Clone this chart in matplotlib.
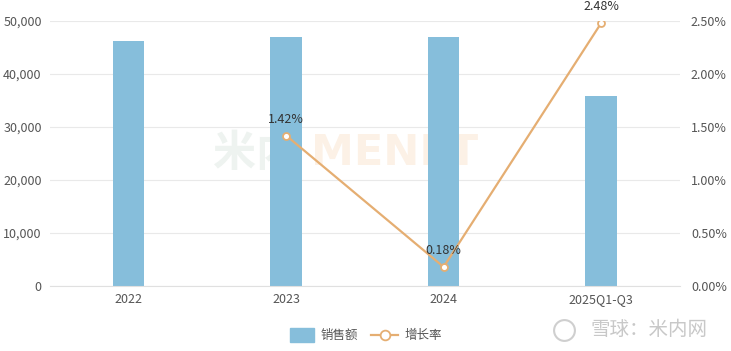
import matplotlib.pyplot as plt
from matplotlib.ticker import FuncFormatter

plt.rcParams['font.family'] = ['Noto Sans CJK SC', 'DejaVu Sans']

categories = ['2022', '2023', '2024', '2025Q1-Q3']
sales = [46300, 46960, 47040, 35850]
growth = [None, 1.42, 0.18, 2.48]

bar_color = '#86BEDB'
line_color = '#E5AE72'
text_color = '#555555'
grid_color = '#E9E9E9'

fig = plt.figure(figsize=(7.31, 3.51), dpi=100)

# faint watermark behind everything
fig.text(0.292, 0.565, '米内', fontsize=31, color='#EEF3F0', ha='left', va='center',
         fontweight='bold', zorder=-5)
fig.text(0.425, 0.565, 'MENET', fontsize=31, color='#FCF1E6', ha='left', va='center',
         fontweight='bold', family='DejaVu Sans', zorder=-5)

ax = fig.add_axes([0.0684, 0.185, 0.8616, 0.755])
ax.patch.set_alpha(0)
x = list(range(len(categories)))

ax.bar(x, sales, width=0.2, color=bar_color, zorder=2)
ax.set_xlim(-0.5, len(categories) - 0.5)
ax.set_ylim(0, 50000)
ax.set_yticks(range(0, 50001, 10000))
ax.yaxis.set_major_formatter(FuncFormatter(lambda v, p: f'{int(v):,}'))
ax.set_xticks(x)
ax.set_xticklabels(categories)
ax.grid(axis='y', color=grid_color, linewidth=0.8, zorder=0)
for s in ['top', 'right', 'left']:
    ax.spines[s].set_visible(False)
ax.spines['bottom'].set_color('#E0E0E0')
ax.tick_params(axis='both', length=0, colors=text_color, labelsize=9)
ax.tick_params(axis='x', pad=5)
ax.tick_params(axis='y', pad=6)

ax2 = ax.twinx()
ax2.patch.set_alpha(0)
gx = [i for i, g in zip(x, growth) if g is not None]
gy = [g for g in growth if g is not None]
ax2.plot(gx, gy, color=line_color, linewidth=1.6, marker='o', markersize=5,
         markerfacecolor='white', markeredgecolor=line_color, markeredgewidth=1.3, zorder=3)
for xi, yi in zip(gx, gy):
    ax2.annotate(f'{yi:.2f}%', (xi, yi), xytext=(0, 7), textcoords='offset points',
                 ha='center', va='bottom', fontsize=9, color='#333333')
ax2.set_ylim(0, 2.5)
ax2.set_yticks([0, 0.5, 1.0, 1.5, 2.0, 2.5])
ax2.yaxis.set_major_formatter(FuncFormatter(lambda v, p: f'{v:.2f}%'))
for s in ['top', 'right', 'left', 'bottom']:
    ax2.spines[s].set_visible(False)
ax2.tick_params(axis='y', length=0, colors=text_color, labelsize=9, pad=8)

# legend
fig.patches.append(plt.Rectangle((0.397, 0.025), 0.033, 0.04, transform=fig.transFigure,
                                 color=bar_color, figure=fig))
fig.text(0.438, 0.045, '销售额', fontsize=9, color=text_color, va='center')
fig.lines.append(plt.Line2D([0.507, 0.545], [0.045, 0.045], transform=fig.transFigure,
                            color=line_color, linewidth=1.6))
fig.lines.append(plt.Line2D([0.526], [0.045], transform=fig.transFigure, marker='o',
                            markersize=7, markerfacecolor='white', markeredgecolor=line_color,
                            markeredgewidth=1.3))
fig.text(0.553, 0.045, '增长率', fontsize=9, color=text_color, va='center')

# bottom-right watermark
fig.lines.append(plt.Line2D([0.771], [0.06], transform=fig.transFigure, marker='o',
                            markersize=15, markerfacecolor='none', markeredgecolor='#CFCFCF',
                            markeredgewidth=1.5))
fig.text(0.968, 0.06, '雪球：米内网', fontsize=14, color='#C8C8C8', ha='right', va='center')

fig.savefig('out.png', dpi=100)
